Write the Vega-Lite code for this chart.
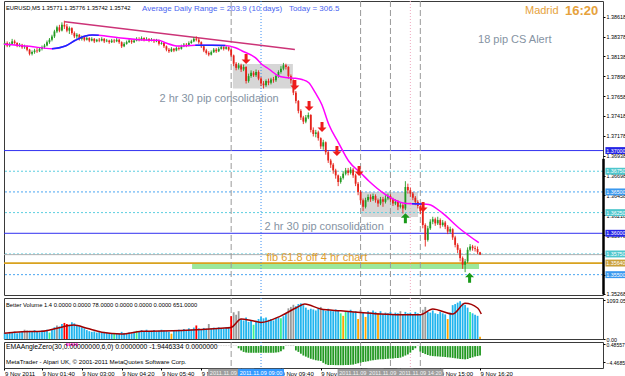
{
"$schema": "https://vega.github.io/schema/vega-lite/v6.json",
"background": "white",
"padding": {"left": 0, "top": 0, "right": 0, "bottom": 0},
"spacing": 3,
"bounds": "flush",
"config": {"font": "Liberation Sans", "view": {"stroke": "#3a3a3a", "strokeWidth": 1}, "axis": {"labelOverlap": false, "labelFont": "Liberation Sans", "labelFontSize": 5.4, "labelColor": "#000000", "tickColor": "#000000", "tickSize": 2, "labelPadding": 1, "domain": false, "grid": false, "labelBound": false}},
"datasets": {
"bars": [
{"i":5,"o":1.3828,"h":1.3832,"l":1.3826,"c":1.383,"v":180,"k":"n","e":0,"f":"w"},
{"i":6,"o":1.383,"h":1.3832,"l":1.3825,"c":1.3827,"v":150,"k":"n","e":0,"f":"w"},
{"i":7,"o":1.3827,"h":1.3831,"l":1.3825,"c":1.3829,"v":200,"k":"n","e":0,"f":"w"},
{"i":8,"o":1.3829,"h":1.3835,"l":1.3828,"c":1.3832,"v":170,"k":"n","e":0,"f":"w"},
{"i":9,"o":1.3832,"h":1.3834,"l":1.3828,"c":1.383,"v":210,"k":"n","e":0,"f":"w"},
{"i":10,"o":1.383,"h":1.3831,"l":1.3825,"c":1.3827,"v":160,"k":"n","e":0,"f":"w"},
{"i":11,"o":1.3827,"h":1.383,"l":1.3825,"c":1.3828,"v":190,"k":"n","e":0,"f":"w"},
{"i":12,"o":1.3828,"h":1.3829,"l":1.3823,"c":1.3825,"v":220,"k":"n","e":0,"f":"w"},
{"i":13,"o":1.3825,"h":1.3828,"l":1.3823,"c":1.3826,"v":260,"k":"g","e":0,"f":"w"},
{"i":14,"o":1.3826,"h":1.3827,"l":1.382,"c":1.3822,"v":240,"k":"g","e":0,"f":"w"},
{"i":15,"o":1.3822,"h":1.3823,"l":1.3815,"c":1.3817,"v":230,"k":"n","e":0,"f":"w"},
{"i":16,"o":1.3817,"h":1.3821,"l":1.3815,"c":1.3819,"v":200,"k":"n","e":0,"f":"w"},
{"i":17,"o":1.3819,"h":1.3823,"l":1.3817,"c":1.3821,"v":250,"k":"n","e":0,"f":"w"},
{"i":18,"o":1.3821,"h":1.3824,"l":1.3818,"c":1.382,"v":210,"k":"n","e":0,"f":"w"},
{"i":19,"o":1.382,"h":1.3825,"l":1.3819,"c":1.3823,"v":190,"k":"n","e":0,"f":"w"},
{"i":20,"o":1.3823,"h":1.3827,"l":1.3821,"c":1.3825,"v":240,"k":"n","e":0,"f":"w"},
{"i":21,"o":1.3825,"h":1.3829,"l":1.3823,"c":1.3827,"v":220,"k":"n","e":0,"f":"w"},
{"i":22,"o":1.3827,"h":1.3833,"l":1.3826,"c":1.3831,"v":260,"k":"n","e":0,"f":"w"},
{"i":23,"o":1.3831,"h":1.3836,"l":1.3829,"c":1.3834,"v":180,"k":"l","e":0,"f":"w"},
{"i":24,"o":1.3834,"h":1.384,"l":1.3832,"c":1.3838,"v":280,"k":"n","e":0,"f":"w"},
{"i":25,"o":1.3838,"h":1.3846,"l":1.3836,"c":1.3844,"v":330,"k":"n","e":0,"f":"w"},
{"i":26,"o":1.3844,"h":1.3851,"l":1.3842,"c":1.3849,"v":380,"k":"g","e":0,"f":"w"},
{"i":27,"o":1.3849,"h":1.3852,"l":1.3843,"c":1.3845,"v":350,"k":"n","e":0,"f":"w"},
{"i":28,"o":1.3845,"h":1.3855,"l":1.3844,"c":1.3852,"v":420,"k":"n","e":0,"f":"w"},
{"i":29,"o":1.3852,"h":1.3857,"l":1.3847,"c":1.385,"v":450,"k":"r","e":0,"f":"w"},
{"i":30,"o":1.385,"h":1.3853,"l":1.3843,"c":1.3845,"v":420,"k":"r","e":0.8,"f":"m"},
{"i":31,"o":1.3845,"h":1.385,"l":1.3841,"c":1.3848,"v":400,"k":"n","e":0.8,"f":"m"},
{"i":32,"o":1.3848,"h":1.3849,"l":1.384,"c":1.3842,"v":470,"k":"n","e":0.8,"f":"m"},
{"i":33,"o":1.3842,"h":1.3844,"l":1.3836,"c":1.3838,"v":440,"k":"n","e":0.8,"f":"m"},
{"i":34,"o":1.3838,"h":1.3842,"l":1.3835,"c":1.384,"v":390,"k":"n","e":0.8,"f":"m"},
{"i":35,"o":1.384,"h":1.3841,"l":1.3833,"c":1.3835,"v":360,"k":"n","e":0,"f":"w"},
{"i":36,"o":1.3835,"h":1.3839,"l":1.3833,"c":1.3837,"v":330,"k":"n","e":0.25,"f":"w"},
{"i":37,"o":1.3837,"h":1.3838,"l":1.3832,"c":1.3834,"v":300,"k":"n","e":0.25,"f":"w"},
{"i":38,"o":1.3834,"h":1.3838,"l":1.3833,"c":1.3836,"v":250,"k":"n","e":0.25,"f":"w"},
{"i":39,"o":1.3836,"h":1.3837,"l":1.3831,"c":1.3833,"v":220,"k":"n","e":0.25,"f":"w"},
{"i":40,"o":1.3833,"h":1.3837,"l":1.3832,"c":1.3835,"v":200,"k":"n","e":0.25,"f":"w"},
{"i":41,"o":1.3835,"h":1.3836,"l":1.383,"c":1.3832,"v":210,"k":"n","e":0.25,"f":"w"},
{"i":42,"o":1.3832,"h":1.3835,"l":1.3831,"c":1.3834,"v":180,"k":"n","e":0.25,"f":"w"},
{"i":43,"o":1.3834,"h":1.3836,"l":1.3831,"c":1.3833,"v":190,"k":"n","e":0.25,"f":"w"},
{"i":44,"o":1.3833,"h":1.3837,"l":1.3832,"c":1.3835,"v":170,"k":"n","e":0.25,"f":"w"},
{"i":45,"o":1.3835,"h":1.3836,"l":1.383,"c":1.3832,"v":200,"k":"n","e":0.25,"f":"w"},
{"i":46,"o":1.3832,"h":1.3835,"l":1.3831,"c":1.3833,"v":180,"k":"n","e":0.25,"f":"w"},
{"i":47,"o":1.3833,"h":1.3834,"l":1.3829,"c":1.3831,"v":160,"k":"n","e":0.25,"f":"w"},
{"i":48,"o":1.3831,"h":1.3835,"l":1.383,"c":1.3833,"v":150,"k":"n","e":0.25,"f":"w"},
{"i":49,"o":1.3833,"h":1.3835,"l":1.383,"c":1.3832,"v":170,"k":"l","e":0.25,"f":"w"},
{"i":50,"o":1.3832,"h":1.3836,"l":1.3831,"c":1.3834,"v":160,"k":"n","e":0.25,"f":"w"},
{"i":51,"o":1.3834,"h":1.3835,"l":1.3829,"c":1.3831,"v":150,"k":"n","e":0.25,"f":"w"},
{"i":52,"o":1.3831,"h":1.3832,"l":1.3824,"c":1.3826,"v":200,"k":"n","e":0.25,"f":"w"},
{"i":53,"o":1.3826,"h":1.3831,"l":1.3825,"c":1.3829,"v":170,"k":"n","e":0.25,"f":"w"},
{"i":54,"o":1.3829,"h":1.3833,"l":1.3828,"c":1.3831,"v":140,"k":"n","e":0.25,"f":"w"},
{"i":55,"o":1.3831,"h":1.3835,"l":1.383,"c":1.3833,"v":180,"k":"n","e":0.25,"f":"w"},
{"i":56,"o":1.3833,"h":1.3834,"l":1.3829,"c":1.3831,"v":160,"k":"n","e":0.25,"f":"w"},
{"i":57,"o":1.3831,"h":1.3835,"l":1.383,"c":1.3833,"v":200,"k":"n","e":0.25,"f":"w"},
{"i":58,"o":1.3833,"h":1.3837,"l":1.3832,"c":1.3835,"v":230,"k":"l","e":0.25,"f":"w"},
{"i":59,"o":1.3835,"h":1.3837,"l":1.3832,"c":1.3834,"v":210,"k":"n","e":0.25,"f":"w"},
{"i":60,"o":1.3834,"h":1.3838,"l":1.3833,"c":1.3836,"v":250,"k":"n","e":0.25,"f":"w"},
{"i":61,"o":1.3836,"h":1.3837,"l":1.3832,"c":1.3834,"v":220,"k":"n","e":0.25,"f":"w"},
{"i":62,"o":1.3834,"h":1.3837,"l":1.3833,"c":1.3835,"v":260,"k":"n","e":0.25,"f":"w"},
{"i":63,"o":1.3835,"h":1.3836,"l":1.3831,"c":1.3833,"v":200,"k":"n","e":0.25,"f":"w"},
{"i":64,"o":1.3833,"h":1.3836,"l":1.3832,"c":1.3834,"v":230,"k":"n","e":0.25,"f":"w"},
{"i":65,"o":1.3834,"h":1.3835,"l":1.383,"c":1.3832,"v":250,"k":"n","e":0.25,"f":"w"},
{"i":66,"o":1.3832,"h":1.3835,"l":1.3831,"c":1.3833,"v":210,"k":"n","e":0.25,"f":"w"},
{"i":67,"o":1.3833,"h":1.3834,"l":1.3827,"c":1.3829,"v":230,"k":"n","e":0.25,"f":"w"},
{"i":68,"o":1.3829,"h":1.3832,"l":1.3828,"c":1.383,"v":260,"k":"n","e":0.25,"f":"w"},
{"i":69,"o":1.383,"h":1.3831,"l":1.3824,"c":1.3826,"v":240,"k":"n","e":0.25,"f":"w"},
{"i":70,"o":1.3826,"h":1.3827,"l":1.382,"c":1.3822,"v":220,"k":"n","e":0.25,"f":"w"},
{"i":71,"o":1.3822,"h":1.3824,"l":1.3818,"c":1.382,"v":200,"k":"n","e":0.25,"f":"w"},
{"i":72,"o":1.382,"h":1.3825,"l":1.3819,"c":1.3823,"v":150,"k":"o","e":0.25,"f":"w"},
{"i":73,"o":1.3823,"h":1.3824,"l":1.3819,"c":1.3821,"v":230,"k":"n","e":0.25,"f":"w"},
{"i":74,"o":1.3821,"h":1.3826,"l":1.382,"c":1.3824,"v":250,"k":"n","e":0.25,"f":"w"},
{"i":75,"o":1.3824,"h":1.3826,"l":1.3821,"c":1.3823,"v":260,"k":"n","e":0.25,"f":"w"},
{"i":76,"o":1.3823,"h":1.3828,"l":1.3822,"c":1.3826,"v":240,"k":"n","e":0.25,"f":"w"},
{"i":77,"o":1.3826,"h":1.383,"l":1.3825,"c":1.3828,"v":280,"k":"n","e":0.25,"f":"w"},
{"i":78,"o":1.3828,"h":1.383,"l":1.3825,"c":1.3827,"v":250,"k":"n","e":0.25,"f":"w"},
{"i":79,"o":1.3827,"h":1.3832,"l":1.3826,"c":1.383,"v":300,"k":"n","e":0.25,"f":"w"},
{"i":80,"o":1.383,"h":1.3834,"l":1.3829,"c":1.3832,"v":270,"k":"n","e":0.25,"f":"w"},
{"i":81,"o":1.3832,"h":1.3837,"l":1.3831,"c":1.3835,"v":320,"k":"n","e":0.25,"f":"w"},
{"i":82,"o":1.3835,"h":1.3838,"l":1.3832,"c":1.3834,"v":380,"k":"r","e":0.25,"f":"w"},
{"i":83,"o":1.3834,"h":1.3836,"l":1.3829,"c":1.3831,"v":300,"k":"n","e":0.25,"f":"w"},
{"i":84,"o":1.3831,"h":1.3832,"l":1.3824,"c":1.3826,"v":280,"k":"n","e":0.25,"f":"w"},
{"i":85,"o":1.3826,"h":1.3827,"l":1.3819,"c":1.3821,"v":310,"k":"n","e":0.25,"f":"w"},
{"i":86,"o":1.3821,"h":1.3823,"l":1.3816,"c":1.3818,"v":290,"k":"n","e":0.25,"f":"w"},
{"i":87,"o":1.3818,"h":1.382,"l":1.3814,"c":1.3816,"v":420,"k":"g","e":0.25,"f":"w"},
{"i":88,"o":1.3816,"h":1.3821,"l":1.3815,"c":1.3819,"v":300,"k":"n","e":0.25,"f":"w"},
{"i":89,"o":1.3819,"h":1.3824,"l":1.3818,"c":1.3822,"v":320,"k":"n","e":0.25,"f":"w"},
{"i":90,"o":1.3822,"h":1.3824,"l":1.3818,"c":1.382,"v":290,"k":"n","e":0.25,"f":"w"},
{"i":91,"o":1.382,"h":1.3825,"l":1.3819,"c":1.3823,"v":330,"k":"n","e":0.25,"f":"w"},
{"i":92,"o":1.3823,"h":1.3827,"l":1.3822,"c":1.3825,"v":310,"k":"n","e":0.25,"f":"w"},
{"i":93,"o":1.3825,"h":1.3826,"l":1.3821,"c":1.3823,"v":300,"k":"n","e":0.25,"f":"w"},
{"i":94,"o":1.3823,"h":1.3827,"l":1.3822,"c":1.3825,"v":320,"k":"n","e":0.25,"f":"w"},
{"i":95,"o":1.3825,"h":1.3826,"l":1.382,"c":1.3822,"v":340,"k":"n","e":0.25,"f":"w"},
{"i":96,"o":1.3822,"h":1.3823,"l":1.3813,"c":1.3815,"v":640,"k":"r","e":0.2,"f":"w"},
{"i":97,"o":1.3815,"h":1.3816,"l":1.3802,"c":1.3805,"v":750,"k":"g","e":0.2,"f":"w"},
{"i":98,"o":1.3805,"h":1.3807,"l":1.3797,"c":1.38,"v":680,"k":"g","e":0.2,"f":"w"},
{"i":99,"o":1.38,"h":1.3806,"l":1.3798,"c":1.3803,"v":780,"k":"g","e":-0.6,"f":"g"},
{"i":100,"o":1.3803,"h":1.3805,"l":1.3795,"c":1.3798,"v":560,"k":"n","e":-1.2,"f":"g"},
{"i":101,"o":1.3798,"h":1.3804,"l":1.3796,"c":1.3801,"v":520,"k":"n","e":-1.6,"f":"g"},
{"i":102,"o":1.3801,"h":1.3802,"l":1.3781,"c":1.3784,"v":600,"k":"n","e":-1.8,"f":"g"},
{"i":103,"o":1.3784,"h":1.3793,"l":1.3782,"c":1.379,"v":480,"k":"n","e":-1.85,"f":"g"},
{"i":104,"o":1.379,"h":1.3797,"l":1.3788,"c":1.3794,"v":530,"k":"n","e":-1.85,"f":"g"},
{"i":105,"o":1.3794,"h":1.3796,"l":1.3789,"c":1.3791,"v":400,"k":"l","e":-1.85,"f":"g"},
{"i":106,"o":1.3791,"h":1.3798,"l":1.3789,"c":1.3795,"v":510,"k":"n","e":-1.85,"f":"g"},
{"i":107,"o":1.3795,"h":1.3797,"l":1.3785,"c":1.3787,"v":560,"k":"n","e":-1.85,"f":"g"},
{"i":108,"o":1.3787,"h":1.3789,"l":1.3778,"c":1.3781,"v":620,"k":"n","e":-1.85,"f":"g"},
{"i":109,"o":1.3781,"h":1.3784,"l":1.3775,"c":1.3779,"v":580,"k":"n","e":-1.85,"f":"g"},
{"i":110,"o":1.3779,"h":1.3786,"l":1.3777,"c":1.3784,"v":600,"k":"n","e":-1.85,"f":"g"},
{"i":111,"o":1.3784,"h":1.3787,"l":1.3779,"c":1.3782,"v":540,"k":"n","e":-1.85,"f":"g"},
{"i":112,"o":1.3782,"h":1.3788,"l":1.378,"c":1.3786,"v":560,"k":"n","e":-1.85,"f":"g"},
{"i":113,"o":1.3786,"h":1.3789,"l":1.3782,"c":1.3785,"v":520,"k":"n","e":-1.85,"f":"g"},
{"i":114,"o":1.3785,"h":1.3792,"l":1.3783,"c":1.379,"v":590,"k":"n","e":-1.8,"f":"g"},
{"i":115,"o":1.379,"h":1.3797,"l":1.3788,"c":1.3795,"v":600,"k":"n","e":-1.7,"f":"g"},
{"i":116,"o":1.3795,"h":1.3802,"l":1.3793,"c":1.3799,"v":580,"k":"l","e":-1.4,"f":"g"},
{"i":117,"o":1.3799,"h":1.3806,"l":1.3797,"c":1.3803,"v":640,"k":"n","e":-0.9,"f":"g"},
{"i":118,"o":1.3803,"h":1.3805,"l":1.3798,"c":1.3801,"v":700,"k":"n","e":0.3,"f":"w"},
{"i":119,"o":1.3801,"h":1.3802,"l":1.3787,"c":1.379,"v":860,"k":"g","e":0.3,"f":"w"},
{"i":120,"o":1.379,"h":1.3792,"l":1.3781,"c":1.3785,"v":900,"k":"g","e":0.3,"f":"w"},
{"i":121,"o":1.3785,"h":1.3786,"l":1.3767,"c":1.377,"v":960,"k":"g","e":0.3,"f":"w"},
{"i":122,"o":1.377,"h":1.3772,"l":1.3757,"c":1.376,"v":920,"k":"n","e":-1.2,"f":"g"},
{"i":123,"o":1.376,"h":1.3761,"l":1.3745,"c":1.3748,"v":980,"k":"n","e":-1.6,"f":"g"},
{"i":124,"o":1.3748,"h":1.375,"l":1.3737,"c":1.374,"v":1000,"k":"n","e":-2.1,"f":"g"},
{"i":125,"o":1.374,"h":1.3742,"l":1.3732,"c":1.3735,"v":950,"k":"n","e":-2.6,"f":"g"},
{"i":126,"o":1.3735,"h":1.3743,"l":1.3733,"c":1.374,"v":880,"k":"n","e":-2.9,"f":"g"},
{"i":127,"o":1.374,"h":1.3746,"l":1.3738,"c":1.3743,"v":820,"k":"n","e":-3.2,"f":"g"},
{"i":128,"o":1.3743,"h":1.3744,"l":1.3722,"c":1.3725,"v":850,"k":"n","e":-3.5,"f":"g"},
{"i":129,"o":1.3725,"h":1.3728,"l":1.3717,"c":1.372,"v":830,"k":"n","e":-3.7,"f":"g"},
{"i":130,"o":1.372,"h":1.3725,"l":1.3716,"c":1.3722,"v":800,"k":"n","e":-3.9,"f":"g"},
{"i":131,"o":1.3722,"h":1.3724,"l":1.3712,"c":1.3715,"v":860,"k":"n","e":-4.0,"f":"g"},
{"i":132,"o":1.3715,"h":1.3716,"l":1.3702,"c":1.3705,"v":900,"k":"g","e":-4.1,"f":"g"},
{"i":133,"o":1.3705,"h":1.3713,"l":1.3701,"c":1.371,"v":820,"k":"n","e":-4.6,"f":"g"},
{"i":134,"o":1.371,"h":1.3711,"l":1.3695,"c":1.3698,"v":790,"k":"n","e":-5.0,"f":"g"},
{"i":135,"o":1.3698,"h":1.37,"l":1.3685,"c":1.3688,"v":850,"k":"n","e":-5.2,"f":"g"},
{"i":136,"o":1.3688,"h":1.369,"l":1.3679,"c":1.3683,"v":800,"k":"n","e":-5.2,"f":"g"},
{"i":137,"o":1.3683,"h":1.3685,"l":1.3672,"c":1.3676,"v":780,"k":"n","e":-5.2,"f":"g"},
{"i":138,"o":1.3676,"h":1.3678,"l":1.3666,"c":1.367,"v":830,"k":"n","e":-5.25,"f":"g"},
{"i":139,"o":1.367,"h":1.3671,"l":1.3657,"c":1.3662,"v":800,"k":"n","e":-5.25,"f":"g"},
{"i":140,"o":1.3662,"h":1.3669,"l":1.366,"c":1.3667,"v":720,"k":"l","e":-5.25,"f":"g"},
{"i":141,"o":1.3667,"h":1.3675,"l":1.3665,"c":1.3672,"v":650,"k":"o","e":-5.25,"f":"g"},
{"i":142,"o":1.3672,"h":1.3679,"l":1.367,"c":1.3676,"v":760,"k":"l","e":-5.2,"f":"g"},
{"i":143,"o":1.3676,"h":1.3679,"l":1.367,"c":1.3673,"v":780,"k":"n","e":-5.2,"f":"g"},
{"i":144,"o":1.3673,"h":1.368,"l":1.3671,"c":1.3677,"v":820,"k":"n","e":-5.15,"f":"g"},
{"i":145,"o":1.3677,"h":1.3679,"l":1.3667,"c":1.367,"v":760,"k":"n","e":-5.1,"f":"g"},
{"i":146,"o":1.367,"h":1.3672,"l":1.3657,"c":1.366,"v":780,"k":"n","e":-4.9,"f":"g"},
{"i":147,"o":1.366,"h":1.3662,"l":1.3646,"c":1.365,"v":560,"k":"o","e":-4.7,"f":"g"},
{"i":148,"o":1.365,"h":1.3652,"l":1.3636,"c":1.364,"v":820,"k":"g","e":-4.55,"f":"g"},
{"i":149,"o":1.364,"h":1.3642,"l":1.3627,"c":1.3632,"v":760,"k":"n","e":-4.4,"f":"g"},
{"i":150,"o":1.3632,"h":1.3643,"l":1.363,"c":1.364,"v":620,"k":"o","e":-4.3,"f":"g"},
{"i":151,"o":1.364,"h":1.3647,"l":1.3638,"c":1.3644,"v":780,"k":"n","e":-4.15,"f":"g"},
{"i":152,"o":1.3644,"h":1.3647,"l":1.3638,"c":1.3641,"v":740,"k":"n","e":-4.0,"f":"g"},
{"i":153,"o":1.3641,"h":1.3648,"l":1.3639,"c":1.3645,"v":800,"k":"n","e":-3.9,"f":"g"},
{"i":154,"o":1.3645,"h":1.3647,"l":1.3637,"c":1.364,"v":760,"k":"n","e":-3.8,"f":"g"},
{"i":155,"o":1.364,"h":1.3642,"l":1.3632,"c":1.3636,"v":720,"k":"o","e":-3.7,"f":"g"},
{"i":156,"o":1.3636,"h":1.3644,"l":1.3634,"c":1.3641,"v":780,"k":"n","e":-3.64,"f":"g"},
{"i":157,"o":1.3641,"h":1.3644,"l":1.3632,"c":1.3638,"v":700,"k":"n","e":-3.6,"f":"g"},
{"i":158,"o":1.3638,"h":1.3646,"l":1.3636,"c":1.3642,"v":740,"k":"n","e":-3.55,"f":"g"},
{"i":159,"o":1.3642,"h":1.3648,"l":1.364,"c":1.3645,"v":720,"k":"n","e":-3.5,"f":"g"},
{"i":160,"o":1.3645,"h":1.3647,"l":1.3638,"c":1.3641,"v":760,"k":"n","e":-3.45,"f":"g"},
{"i":161,"o":1.3641,"h":1.3643,"l":1.3633,"c":1.3636,"v":700,"k":"n","e":-3.4,"f":"g"},
{"i":162,"o":1.3636,"h":1.3641,"l":1.3634,"c":1.3638,"v":740,"k":"n","e":-3.3,"f":"g"},
{"i":163,"o":1.3638,"h":1.364,"l":1.3628,"c":1.3632,"v":720,"k":"n","e":-3.25,"f":"g"},
{"i":164,"o":1.3632,"h":1.3637,"l":1.363,"c":1.3634,"v":780,"k":"g","e":-3.18,"f":"g"},
{"i":165,"o":1.3634,"h":1.3636,"l":1.3624,"c":1.363,"v":700,"k":"n","e":-2.9,"f":"g"},
{"i":166,"o":1.363,"h":1.3663,"l":1.3628,"c":1.3656,"v":760,"k":"n","e":-2.6,"f":"g"},
{"i":167,"o":1.3656,"h":1.366,"l":1.3648,"c":1.3652,"v":720,"k":"n","e":-2.3,"f":"g"},
{"i":168,"o":1.3652,"h":1.3655,"l":1.3644,"c":1.3648,"v":740,"k":"n","e":-1.8,"f":"g"},
{"i":169,"o":1.3648,"h":1.365,"l":1.364,"c":1.3643,"v":700,"k":"n","e":-1.1,"f":"g"},
{"i":170,"o":1.3643,"h":1.3645,"l":1.3634,"c":1.3638,"v":760,"k":"n","e":-0.6,"f":"g"},
{"i":171,"o":1.3638,"h":1.364,"l":1.363,"c":1.3633,"v":720,"k":"n","e":0.2,"f":"w"},
{"i":172,"o":1.3633,"h":1.3635,"l":1.3623,"c":1.3627,"v":700,"k":"n","e":-1.5,"f":"g"},
{"i":173,"o":1.3627,"h":1.3628,"l":1.3606,"c":1.361,"v":820,"k":"g","e":-1.9,"f":"g"},
{"i":174,"o":1.361,"h":1.3612,"l":1.3584,"c":1.3592,"v":900,"k":"g","e":-2.2,"f":"g"},
{"i":175,"o":1.3592,"h":1.3609,"l":1.359,"c":1.3606,"v":760,"k":"n","e":-2.45,"f":"g"},
{"i":176,"o":1.3606,"h":1.3617,"l":1.3604,"c":1.3614,"v":740,"k":"n","e":-2.65,"f":"g"},
{"i":177,"o":1.3614,"h":1.362,"l":1.3611,"c":1.3617,"v":800,"k":"n","e":-2.75,"f":"g"},
{"i":178,"o":1.3617,"h":1.3619,"l":1.3609,"c":1.3612,"v":720,"k":"n","e":-2.8,"f":"g"},
{"i":179,"o":1.3612,"h":1.362,"l":1.361,"c":1.3616,"v":700,"k":"n","e":-2.85,"f":"g"},
{"i":180,"o":1.3616,"h":1.3618,"l":1.3606,"c":1.361,"v":760,"k":"n","e":-2.9,"f":"g"},
{"i":181,"o":1.361,"h":1.3616,"l":1.3608,"c":1.3613,"v":720,"k":"n","e":-2.95,"f":"g"},
{"i":182,"o":1.3613,"h":1.3615,"l":1.3605,"c":1.3608,"v":690,"k":"n","e":-3.0,"f":"g"},
{"i":183,"o":1.3608,"h":1.361,"l":1.3599,"c":1.3602,"v":560,"k":"o","e":-3.1,"f":"g"},
{"i":184,"o":1.3602,"h":1.3608,"l":1.36,"c":1.3605,"v":740,"k":"n","e":-3.15,"f":"g"},
{"i":185,"o":1.3605,"h":1.3606,"l":1.3592,"c":1.3595,"v":950,"k":"n","e":-3.25,"f":"g"},
{"i":186,"o":1.3595,"h":1.3597,"l":1.3583,"c":1.3586,"v":980,"k":"n","e":-3.35,"f":"g"},
{"i":187,"o":1.3586,"h":1.3588,"l":1.3576,"c":1.358,"v":1020,"k":"n","e":-3.45,"f":"g"},
{"i":188,"o":1.358,"h":1.3582,"l":1.3566,"c":1.357,"v":1060,"k":"n","e":-3.55,"f":"g"},
{"i":189,"o":1.357,"h":1.3572,"l":1.3557,"c":1.3562,"v":1000,"k":"n","e":-3.6,"f":"g"},
{"i":190,"o":1.3562,"h":1.3569,"l":1.3553,"c":1.3566,"v":960,"k":"n","e":-3.65,"f":"g"},
{"i":191,"o":1.3566,"h":1.3583,"l":1.3564,"c":1.358,"v":880,"k":"n","e":-3.55,"f":"g"},
{"i":192,"o":1.358,"h":1.3587,"l":1.3578,"c":1.3584,"v":760,"k":"l","e":-3.3,"f":"g"},
{"i":193,"o":1.3584,"h":1.3586,"l":1.3579,"c":1.3582,"v":720,"k":"n","e":-3.1,"f":"g"},
{"i":194,"o":1.3582,"h":1.3585,"l":1.3578,"c":1.3581,"v":680,"k":"n","e":-2.9,"f":"g"},
{"i":195,"o":1.3581,"h":1.3584,"l":1.3575,"c":1.35771,"v":650,"k":"n","e":-2.75,"f":"g"},
{"i":196,"o":1.35771,"h":1.35776,"l":1.35742,"c":1.35742,"v":60,"k":"o","e":-2.6,"f":"g"}
],
"ma": [
{"i":4.7,"p":1.38285},{"i":15,"p":1.3826},{"i":24,"p":1.38231},{"i":29.4,"p":1.38264},{"i":33.4,"p":1.38333},{"i":37.4,"p":1.38385},{"i":40.1,"p":1.38397},{"i":42.8,"p":1.38393},{"i":50.8,"p":1.38364},{"i":60.2,"p":1.38337},{"i":66.9,"p":1.38333},{"i":69.5,"p":1.38304},{"i":74.9,"p":1.38264},{"i":81.6,"p":1.38272},{"i":88.3,"p":1.38272},{"i":93.6,"p":1.3827},{"i":97.7,"p":1.38243},{"i":100.4,"p":1.38204},{"i":105.7,"p":1.38123},{"i":108.4,"p":1.3804},{"i":111.1,"p":1.37986},{"i":115.1,"p":1.37901},{"i":117.8,"p":1.37883},{"i":121.8,"p":1.37873},{"i":124.5,"p":1.37859},{"i":127.2,"p":1.3782},{"i":129.8,"p":1.37699},{"i":132.5,"p":1.37551},{"i":135.2,"p":1.37317},{"i":139.2,"p":1.37091},{"i":143.2,"p":1.36874},{"i":148.6,"p":1.36713},{"i":151.3,"p":1.36632},{"i":157.9,"p":1.36471},{"i":164.6,"p":1.3637},{"i":168.7,"p":1.36357},{"i":172.7,"p":1.36354},{"i":175.4,"p":1.36348},{"i":180.7,"p":1.36249},{"i":187.4,"p":1.36067},{"i":195.5,"p":1.35886}
],
"mab": [
{"i":24,"p":1.38231,"s":1},{"i":29.4,"p":1.38264,"s":1},{"i":33.4,"p":1.38333,"s":1},{"i":37.4,"p":1.38385,"s":1},{"i":40.1,"p":1.38397,"s":1},{"i":42.8,"p":1.38393,"s":1},
{"i":81.6,"p":1.38272,"s":2},{"i":88.3,"p":1.38272,"s":2},{"i":93.6,"p":1.3827,"s":2},
{"i":168.7,"p":1.36357,"s":3},{"i":172.7,"p":1.36354,"s":3}
],
"vma": [
{"i":4.8,"v":160},{"i":12,"v":200},{"i":20,"v":215},{"i":26,"v":300},{"i":32.8,"v":390},{"i":38,"v":300},{"i":44,"v":190},{"i":52,"v":140},{"i":60,"v":215},{"i":76,"v":235},{"i":92,"v":300},{"i":96,"v":325},{"i":100,"v":560},{"i":104,"v":520},{"i":108,"v":465},{"i":116,"v":650},{"i":122.4,"v":885},{"i":125.6,"v":980},{"i":132,"v":840},{"i":140,"v":790},{"i":148,"v":745},{"i":156,"v":700},{"i":164,"v":680},{"i":172,"v":680},{"i":177,"v":840},{"i":185,"v":700},{"i":190,"v":1000},{"i":195,"v":870},{"i":196.5,"v":700}
],
"levels": [
{"p":1.37,"k":"blue"},{"p":1.3675,"k":"teal"},{"p":1.365,"k":"sky"},{"p":1.3625,"k":"teal"},{"p":1.36,"k":"blue"},{"p":1.3575,"k":"teal"},{"p":1.35742,"k":"bid"},{"p":1.3564,"k":"gold"},{"p":1.355,"k":"sky"}
],
"vlines": [
{"i":96,"k":"gd"},{"i":108,"k":"bd"},{"i":148,"k":"gd"},{"i":160,"k":"gd"},{"i":168,"k":"pd"},{"i":172,"k":"gd"}
],
"tlab": [
{"i":96,"t":"2011.11.09 08:00","k":"g"},{"i":148,"t":"2011.11.09 12:20","k":"g"},{"i":160,"t":"2011.11.09 13:20","k":"g"},{"i":172,"t":"2011.11.09 14:20","k":"g"},{"i":108,"t":"2011.11.09 09:00","k":"b"}
]
},
"vconcat": [
{
"width": 599, "height": 294,
"resolve": {"scale": {"color": "independent", "strokeDash": "independent", "shape": "independent"}},
"layer": [
{"data": {"values": [{"i0":96.7,"i1":120.8,"p0":1.38046,"p1":1.3775,"k":"gray"},{"i0":148.2,"i1":171.1,"p0":1.36499,"p1":1.36197,"k":"gray"},{"i0":80.3,"i1":195.6,"p0":1.35628,"p1":1.35568,"k":"green"}]},
 "mark": {"type": "rect"},
 "encoding": {
  "x": {"field": "i0", "type": "quantitative", "scale": {"domain": [4.73, 245.4], "nice": false, "zero": false}, "axis": null},
  "x2": {"field": "i1"},
  "y": {"field": "p0", "type": "quantitative", "scale": {"domain": [1.35254, 1.38808], "nice": false, "zero": false}},
  "y2": {"field": "p1"},
  "color": {"field": "k", "type": "nominal", "scale": {"domain": ["gray","green"], "range": ["#d6d6d6","#9be89b"]}, "legend": null}
 }},
{"data": {"name": "levels"},
 "transform": [{"filter": "datum.k != 'gold'"}],
 "mark": {"type": "rule", "strokeWidth": 1},
 "encoding": {
  "y": {"field": "p", "type": "quantitative", "scale": {"domain": [1.35254, 1.38808], "nice": false, "zero": false}},
  "color": {"field": "k", "type": "nominal", "scale": {"domain": ["blue","teal","sky","bid"], "range": ["#3030f0","#5ccfe0","#4aa6f2","#b0b0b0"]}, "legend": null},
  "strokeDash": {"field": "k", "type": "nominal", "scale": {"domain": ["blue","teal","sky","bid"], "range": [[1,0],[2,2],[2,2],[1,0]]}, "legend": null}
 }},
{"data": {"name": "levels"},
 "transform": [{"filter": "datum.k == 'gold'"}],
 "mark": {"type": "rule", "strokeWidth": 1.8, "color": "#d8a21e"},
 "encoding": {
  "y": {"field": "p", "type": "quantitative", "scale": {"domain": [1.35254, 1.38808], "nice": false, "zero": false}}
 }},
{"data": {"name": "vlines"},
 "mark": {"type": "rule", "strokeWidth": 1},
 "encoding": {
  "x": {"field": "i", "type": "quantitative", "scale": {"domain": [4.73, 245.4], "nice": false, "zero": false}, "axis": null},
  "color": {"field": "k", "type": "nominal", "scale": {"domain": ["gd","bd","pd"], "range": ["#9a9a9a","#3a8ef0","#f0a8c0"]}, "legend": null},
  "strokeDash": {"field": "k", "type": "nominal", "scale": {"domain": ["gd","bd","pd"], "range": [[6,3],[1,2],[1,2]]}, "legend": null}
 }},
{"data": {"values": [{"i":29.2,"p":1.38558},{"i":121.6,"p":1.38222}]},
 "mark": {"type": "line", "color": "#cc3377", "strokeWidth": 1.5},
 "encoding": {
  "x": {"field": "i", "type": "quantitative", "scale": {"domain": [4.73, 245.4], "nice": false, "zero": false}, "axis": null},
  "y": {"field": "p", "type": "quantitative", "scale": {"domain": [1.35254, 1.38808], "nice": false, "zero": false}}
 }},
{"data": {"name": "bars"},
 "mark": {"type": "rule", "strokeWidth": 0.9},
 "encoding": {
  "x": {"field": "i", "type": "quantitative", "scale": {"domain": [4.73, 245.4], "nice": false, "zero": false}, "axis": null},
  "y": {"field": "l", "type": "quantitative", "scale": {"domain": [1.35254, 1.38808], "nice": false, "zero": false},
        "axis": {"orient": "right", "title": null, "labelOverlap": false, "tickCount": 40, "values": [1.38618,1.38378,1.38138,1.37898,1.37658,1.37418,1.37178,1.36938,1.36698,1.36458,1.36218,1.35978,1.35738,1.35498,1.35268], "format": ".5f"}},
  "y2": {"field": "h"},
  "color": {"condition": {"test": "datum.c >= datum.o", "value": "#229b22"}, "value": "#e5231b"}
 }},
{"data": {"name": "bars"},
 "mark": {"type": "rule", "strokeWidth": 1.8, "strokeCap": "butt"},
 "encoding": {
  "x": {"field": "i", "type": "quantitative", "scale": {"domain": [4.73, 245.4], "nice": false, "zero": false}, "axis": null},
  "y": {"field": "o", "type": "quantitative", "scale": {"domain": [1.35254, 1.38808], "nice": false, "zero": false}},
  "y2": {"field": "c"},
  "color": {"condition": {"test": "datum.c >= datum.o", "value": "#229b22"}, "value": "#e5231b"}
 }},
{"data": {"name": "ma"},
 "mark": {"type": "line", "color": "#ff00ff", "strokeWidth": 1.5, "interpolate": "monotone"},
 "encoding": {
  "x": {"field": "i", "type": "quantitative", "scale": {"domain": [4.73, 245.4], "nice": false, "zero": false}, "axis": null},
  "y": {"field": "p", "type": "quantitative", "scale": {"domain": [1.35254, 1.38808], "nice": false, "zero": false}}
 }},
{"data": {"name": "mab"},
 "mark": {"type": "line", "color": "#1030ff", "strokeWidth": 1.5, "interpolate": "monotone"},
 "encoding": {
  "x": {"field": "i", "type": "quantitative", "scale": {"domain": [4.73, 245.4], "nice": false, "zero": false}, "axis": null},
  "y": {"field": "p", "type": "quantitative", "scale": {"domain": [1.35254, 1.38808], "nice": false, "zero": false}},
  "detail": {"field": "s", "type": "nominal"}
 }},
{"data": {"values": [{"i":102,"p":1.38107,"d":"down"},{"i":121.6,"p":1.37792,"d":"down"},{"i":127.3,"p":1.37539,"d":"down"},{"i":132.5,"p":1.37285,"d":"down"},{"i":138.5,"p":1.36994,"d":"down"},{"i":147.4,"p":1.36753,"d":"down"},{"i":173.1,"p":1.36317,"d":"down"},{"i":166,"p":1.36181,"d":"up"},{"i":191.8,"p":1.35463,"d":"up"}]},
 "mark": {"type": "point", "filled": true, "size": 100, "opacity": 1, "strokeWidth": 0},
 "encoding": {
  "x": {"field": "i", "type": "quantitative", "scale": {"domain": [4.73, 245.4], "nice": false, "zero": false}, "axis": null},
  "y": {"field": "p", "type": "quantitative", "scale": {"domain": [1.35254, 1.38808], "nice": false, "zero": false}},
  "shape": {"field": "d", "type": "nominal", "scale": {"domain": ["down","up"], "range": ["M-0.3,-1L0.3,-1L0.3,0.1L0.9,0.1L0,1L-0.9,0.1L-0.3,0.1Z","M-0.3,1L0.3,1L0.3,-0.1L0.9,-0.1L0,-1L-0.9,-0.1L-0.3,-0.1Z"]}, "legend": null},
  "color": {"field": "d", "type": "nominal", "scale": {"domain": ["down","up"], "range": ["#ee1c1c","#1a9a1a"]}, "legend": null}
 }},
{"data": {"values": [{"i":5.53,"p":1.3872,"t":"EURUSD,M5 1.35771 1.35776 1.35742 1.35742"}]},
 "mark": {"type": "text", "align": "left", "baseline": "middle", "fontSize": 5.8, "color": "#000"},
 "encoding": {
  "x": {"field": "i", "type": "quantitative", "scale": {"domain": [4.73, 245.4], "nice": false, "zero": false}, "axis": null},
  "y": {"field": "p", "type": "quantitative", "scale": {"domain": [1.35254, 1.38808], "nice": false, "zero": false}},
  "text": {"field": "t"}
 }},
{"data": {"values": [{"i":60.2,"p":1.38717,"t":"Average Daily Range = 203.9 (10 days)"},{"i":119.2,"p":1.38717,"t":"Today = 306.5"}]},
 "mark": {"type": "text", "align": "left", "baseline": "middle", "fontSize": 8, "color": "#4a64f0"},
 "encoding": {
  "x": {"field": "i", "type": "quantitative", "scale": {"domain": [4.73, 245.4], "nice": false, "zero": false}, "axis": null},
  "y": {"field": "p", "type": "quantitative", "scale": {"domain": [1.35254, 1.38808], "nice": false, "zero": false}},
  "text": {"field": "t"}
 }},
{"data": {"values": [{"i":214.05,"p":1.38687,"t":"Madrid"}]},
 "mark": {"type": "text", "align": "left", "baseline": "middle", "fontSize": 11, "color": "#e6a23c"},
 "encoding": {
  "x": {"field": "i", "type": "quantitative", "scale": {"domain": [4.73, 245.4], "nice": false, "zero": false}, "axis": null},
  "y": {"field": "p", "type": "quantitative", "scale": {"domain": [1.35254, 1.38808], "nice": false, "zero": false}},
  "text": {"field": "t"}
 }},
{"data": {"values": [{"i":230.1,"p":1.38687,"t":"16:20"}]},
 "mark": {"type": "text", "align": "left", "baseline": "middle", "fontSize": 13, "fontWeight": "bold", "color": "#e6a23c"},
 "encoding": {
  "x": {"field": "i", "type": "quantitative", "scale": {"domain": [4.73, 245.4], "nice": false, "zero": false}, "axis": null},
  "y": {"field": "p", "type": "quantitative", "scale": {"domain": [1.35254, 1.38808], "nice": false, "zero": false}},
  "text": {"field": "t"}
 }},
{"data": {"values": [{"i":195.2,"p":1.38336,"t":"18 pip CS Alert"},{"i":67.2,"p":1.37623,"t":"2 hr 30 pip consolidation"},{"i":109.4,"p":1.36076,"t":"2 hr 30 pip consolidation"}]},
 "mark": {"type": "text", "align": "left", "baseline": "middle", "fontSize": 11, "color": "#8593a3"},
 "encoding": {
  "x": {"field": "i", "type": "quantitative", "scale": {"domain": [4.73, 245.4], "nice": false, "zero": false}, "axis": null},
  "y": {"field": "p", "type": "quantitative", "scale": {"domain": [1.35254, 1.38808], "nice": false, "zero": false}},
  "text": {"field": "t"}
 }},
{"data": {"values": [{"i":110.2,"p":1.35707,"t":"fib 61.8 off 4 hr chart"}]},
 "mark": {"type": "text", "align": "left", "baseline": "middle", "fontSize": 11, "color": "#e0a030"},
 "encoding": {
  "x": {"field": "i", "type": "quantitative", "scale": {"domain": [4.73, 245.4], "nice": false, "zero": false}, "axis": null},
  "y": {"field": "p", "type": "quantitative", "scale": {"domain": [1.35254, 1.38808], "nice": false, "zero": false}},
  "text": {"field": "t"}
 }},
{"data": {"name": "levels"},
 "transform": [{"filter": "datum.k != 'bid'"}],
 "mark": {"type": "point", "filled": true, "size": 441, "opacity": 1, "strokeWidth": 0, "clip": false, "shape": "M-1,-0.33L1,-0.33L1,0.33L-1,0.33Z"},
 "encoding": {
  "x": {"datum": 250.6, "type": "quantitative", "scale": {"domain": [4.73, 245.4], "nice": false, "zero": false}, "axis": null},
  "y": {"field": "p", "type": "quantitative", "scale": {"domain": [1.35254, 1.38808], "nice": false, "zero": false}},
  "color": {"field": "k", "type": "nominal", "scale": {"domain": ["blue","teal","sky","gold"], "range": ["#2525e6","#4ec6cc","#3a98ee","#c9a03a"]}, "legend": null}
 }},
{"data": {"name": "levels"},
 "transform": [{"filter": "datum.k != 'bid'"}],
 "mark": {"type": "text", "align": "center", "baseline": "middle", "fontSize": 5.3, "color": "#ffffff", "clip": false},
 "encoding": {
  "x": {"datum": 250.6, "type": "quantitative", "scale": {"domain": [4.73, 245.4], "nice": false, "zero": false}, "axis": null},
  "y": {"field": "p", "type": "quantitative", "scale": {"domain": [1.35254, 1.38808], "nice": false, "zero": false}},
  "text": {"field": "p", "format": ".5f"}
 }},
{"data": {"values": [{"a":245.6,"b":1.369,"c":1.3526}]},
 "mark": {"type": "rule", "strokeWidth": 2.5, "color": "#000", "clip": false},
 "encoding": {
  "x": {"field": "a", "type": "quantitative", "scale": {"domain": [4.73, 245.4], "nice": false, "zero": false}, "axis": null},
  "y": {"field": "b", "type": "quantitative", "scale": {"domain": [1.35254, 1.38808], "nice": false, "zero": false}},
  "y2": {"field": "c"}
 }}
]
},
{
"width": 599, "height": 41,
"resolve": {"scale": {"color": "independent", "strokeDash": "independent"}},
"layer": [
{"data": {"name": "vlines"},
 "mark": {"type": "rule", "strokeWidth": 1},
 "encoding": {
  "x": {"field": "i", "type": "quantitative", "scale": {"domain": [4.73, 245.4], "nice": false, "zero": false}, "axis": null},
  "color": {"field": "k", "type": "nominal", "scale": {"domain": ["gd","bd","pd"], "range": ["#9a9a9a","#3a8ef0","#f0a8c0"]}, "legend": null},
  "strokeDash": {"field": "k", "type": "nominal", "scale": {"domain": ["gd","bd","pd"], "range": [[6,3],[1,2],[1,2]]}, "legend": null}
 }},
{"data": {"name": "bars"},
 "mark": {"type": "rule", "strokeWidth": 1.8, "strokeCap": "butt"},
 "encoding": {
  "x": {"field": "i", "type": "quantitative", "scale": {"domain": [4.73, 245.4], "nice": false, "zero": false}, "axis": null},
  "y": {"field": "v", "type": "quantitative", "scale": {"domain": [0, 1150], "nice": false, "zero": false},
        "axis": {"orient": "right", "title": null, "labelOverlap": false, "tickCount": 10, "values": [0, 1093.05], "labelExpr": "datum.value > 500 ? '1093.05' : '0.00'"}},
  "y2": {"datum": 0},
  "color": {"field": "k", "type": "nominal", "scale": {"domain": ["n","g","r","l","o"], "range": ["#22b5ee","#9a9a9a","#ff0000","#3cf08c","#ffa500"]}, "legend": null}
 }},
{"data": {"name": "vma"},
 "mark": {"type": "line", "color": "#a00000", "strokeWidth": 1.5, "interpolate": "monotone"},
 "encoding": {
  "x": {"field": "i", "type": "quantitative", "scale": {"domain": [4.73, 245.4], "nice": false, "zero": false}, "axis": null},
  "y": {"field": "v", "type": "quantitative", "scale": {"domain": [0, 1150], "nice": false, "zero": false}}
 }},
{"data": {"values": [{"i":5.53,"v":954,"t":"Better Volume 1.4 0.0000 0.0000 78.0000 0.0000 0.0000 0.0000 651.0000"}]},
 "mark": {"type": "text", "align": "left", "baseline": "middle", "fontSize": 5.8, "color": "#000"},
 "encoding": {
  "x": {"field": "i", "type": "quantitative", "scale": {"domain": [4.73, 245.4], "nice": false, "zero": false}, "axis": null},
  "y": {"field": "v", "type": "quantitative", "scale": {"domain": [0, 1150], "nice": false, "zero": false}},
  "text": {"field": "t"}
 }}
]
},
{
"width": 599, "height": 26,
"resolve": {"scale": {"color": "independent", "strokeDash": "independent"}},
"layer": [
{"data": {"name": "vlines"},
 "mark": {"type": "rule", "strokeWidth": 1},
 "encoding": {
  "x": {"field": "i", "type": "quantitative", "scale": {"domain": [4.73, 245.4], "nice": false, "zero": false}},
  "color": {"field": "k", "type": "nominal", "scale": {"domain": ["gd","bd","pd"], "range": ["#9a9a9a","#3a8ef0","#f0a8c0"]}, "legend": null},
  "strokeDash": {"field": "k", "type": "nominal", "scale": {"domain": ["gd","bd","pd"], "range": [[6,3],[1,2],[1,2]]}, "legend": null}
 }},
{"data": {"name": "bars"},
 "mark": {"type": "rule", "strokeWidth": 1.8, "strokeCap": "butt"},
 "encoding": {
  "x": {"field": "i", "type": "quantitative", "scale": {"domain": [4.73, 245.4], "nice": false, "zero": false},
        "axis": {"orient": "bottom", "title": null, "labelFontSize": 6, "labelPadding": 0, "labelAlign": "left", "labelBaseline": "top", "labelOverlap": false, "labelFlush": false, "tickCount": 40, "values": [4.9,20,36,52,68,84,100,116,132,148,164,180,196], "labelExpr": "datum.value < 10 ? '9 Nov 2011' : '9 Nov ' + (floor(datum.value/12) < 10 ? '0' : '') + floor(datum.value/12) + ':' + ((datum.value % 12) * 5 < 10 ? '0' : '') + ((datum.value % 12) * 5)"}},
  "y": {"field": "e", "type": "quantitative", "scale": {"domain": [-6.03, 1.12], "nice": false, "zero": false},
        "axis": {"orient": "right", "title": null, "labelOverlap": false, "tickCount": 10, "labelFontSize": 5.1, "values": [0.48557, -4.46855], "format": ".5f"}},
  "y2": {"datum": 0},
  "color": {"field": "f", "type": "nominal", "scale": {"domain": ["g","m","w"], "range": ["#229922","#ff33cc","#d8d8d8"]}, "legend": null}
 }},
{"data": {"values": [{"i":5.53,"e":-0.39,"t":"EMAAngleZero(30,0.00000000,6,0) 0.0000000 -1.9446334 0.0000000"}]},
 "mark": {"type": "text", "align": "left", "baseline": "middle", "fontSize": 6.8, "color": "#000"},
 "encoding": {
  "x": {"field": "i", "type": "quantitative", "scale": {"domain": [4.73, 245.4], "nice": false, "zero": false}},
  "y": {"field": "e", "type": "quantitative", "scale": {"domain": [-6.03, 1.12], "nice": false, "zero": false}},
  "text": {"field": "t"}
 }},
{"data": {"values": [{"i":5.53,"e":-4.38,"t":"MetaTrader - Alpari UK, © 2001-2011 MetaQuotes Software Corp."}]},
 "mark": {"type": "text", "align": "left", "baseline": "middle", "fontSize": 6.2, "color": "#000"},
 "encoding": {
  "x": {"field": "i", "type": "quantitative", "scale": {"domain": [4.73, 245.4], "nice": false, "zero": false}},
  "y": {"field": "e", "type": "quantitative", "scale": {"domain": [-6.03, 1.12], "nice": false, "zero": false}},
  "text": {"field": "t"}
 }},
{"data": {"name": "tlab"}, "transform": [{"filter": "datum.i == 96"}],
 "encoding": {
  "x": {"field": "i", "type": "quantitative", "scale": {"domain": [4.73, 245.4], "nice": false, "zero": false}},
  "y": {"datum": -7.27, "type": "quantitative", "scale": {"domain": [-6.03, 1.12], "nice": false, "zero": false}}
 },
 "layer": [
  {"mark": {"type": "point", "filled": true, "size": 2116, "opacity": 1, "strokeWidth": 0, "clip": false, "color": "#9c9c9c", "shape": "M-1,-0.16L1,-0.16L1,0.16L-1,0.16Z"}},
  {"mark": {"type": "text", "align": "center", "baseline": "middle", "fontSize": 5.6, "color": "#f4f4f4", "clip": false}, "encoding": {"text": {"field": "t"}}}
 ]},
{"data": {"name": "tlab"}, "transform": [{"filter": "datum.i == 148"}],
 "encoding": {
  "x": {"field": "i", "type": "quantitative", "scale": {"domain": [4.73, 245.4], "nice": false, "zero": false}},
  "y": {"datum": -7.27, "type": "quantitative", "scale": {"domain": [-6.03, 1.12], "nice": false, "zero": false}}
 },
 "layer": [
  {"mark": {"type": "point", "filled": true, "size": 2116, "opacity": 1, "strokeWidth": 0, "clip": false, "color": "#9c9c9c", "shape": "M-1,-0.16L1,-0.16L1,0.16L-1,0.16Z"}},
  {"mark": {"type": "text", "align": "center", "baseline": "middle", "fontSize": 5.6, "color": "#f4f4f4", "clip": false}, "encoding": {"text": {"field": "t"}}}
 ]},
{"data": {"name": "tlab"}, "transform": [{"filter": "datum.i == 160"}],
 "encoding": {
  "x": {"field": "i", "type": "quantitative", "scale": {"domain": [4.73, 245.4], "nice": false, "zero": false}},
  "y": {"datum": -7.27, "type": "quantitative", "scale": {"domain": [-6.03, 1.12], "nice": false, "zero": false}}
 },
 "layer": [
  {"mark": {"type": "point", "filled": true, "size": 2116, "opacity": 1, "strokeWidth": 0, "clip": false, "color": "#9c9c9c", "shape": "M-1,-0.16L1,-0.16L1,0.16L-1,0.16Z"}},
  {"mark": {"type": "text", "align": "center", "baseline": "middle", "fontSize": 5.6, "color": "#f4f4f4", "clip": false}, "encoding": {"text": {"field": "t"}}}
 ]},
{"data": {"name": "tlab"}, "transform": [{"filter": "datum.i == 172"}],
 "encoding": {
  "x": {"field": "i", "type": "quantitative", "scale": {"domain": [4.73, 245.4], "nice": false, "zero": false}},
  "y": {"datum": -7.27, "type": "quantitative", "scale": {"domain": [-6.03, 1.12], "nice": false, "zero": false}}
 },
 "layer": [
  {"mark": {"type": "point", "filled": true, "size": 2116, "opacity": 1, "strokeWidth": 0, "clip": false, "color": "#9c9c9c", "shape": "M-1,-0.16L1,-0.16L1,0.16L-1,0.16Z"}},
  {"mark": {"type": "text", "align": "center", "baseline": "middle", "fontSize": 5.6, "color": "#f4f4f4", "clip": false}, "encoding": {"text": {"field": "t"}}}
 ]},
{"data": {"name": "tlab"}, "transform": [{"filter": "datum.i == 108"}],
 "encoding": {
  "x": {"field": "i", "type": "quantitative", "scale": {"domain": [4.73, 245.4], "nice": false, "zero": false}},
  "y": {"datum": -7.27, "type": "quantitative", "scale": {"domain": [-6.03, 1.12], "nice": false, "zero": false}}
 },
 "layer": [
  {"mark": {"type": "point", "filled": true, "size": 2116, "opacity": 1, "strokeWidth": 0, "clip": false, "color": "#3399ff", "shape": "M-1,-0.16L1,-0.16L1,0.16L-1,0.16Z"}},
  {"mark": {"type": "text", "align": "center", "baseline": "middle", "fontSize": 5.6, "color": "#ffffff", "clip": false}, "encoding": {"text": {"field": "t"}}}
 ]}
]
}
]
}
